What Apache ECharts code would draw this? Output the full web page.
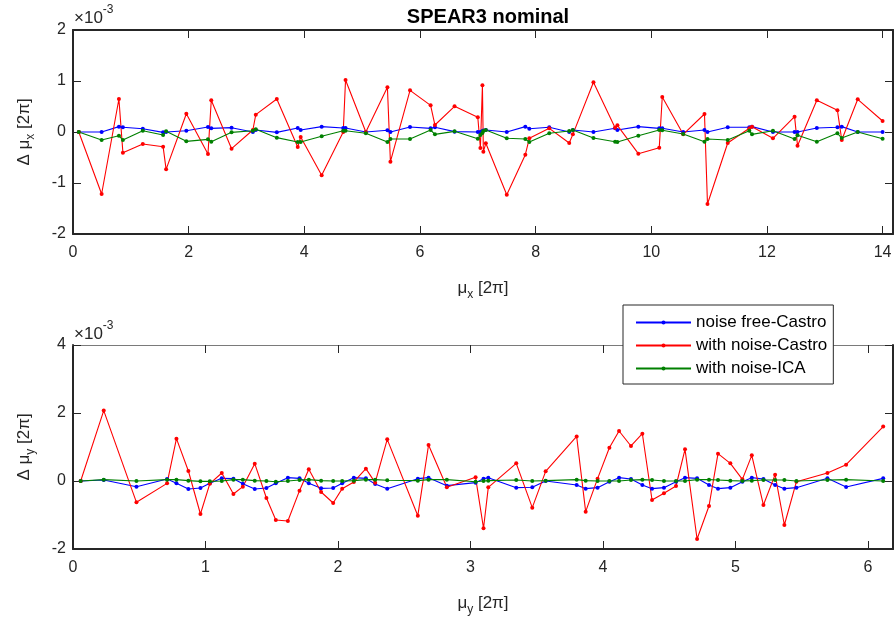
<!DOCTYPE html>
<html><head><meta charset="utf-8">
<script src="https://cdn.jsdelivr.net/npm/echarts@6/dist/echarts.min.js"></script>
<style>html,body{margin:0;padding:0;background:#fff}#c{width:896px;height:619px}</style>
</head><body><div id="c"></div>
<script>
// ---- data (values in units of 1e-3) ----
const seriesNames = ['noise free-Castro', 'with noise-Castro', 'with noise-ICA'];
const titleText = 'SPEAR3 nominal';

const topX = [0.10,0.495,0.794,0.863,1.207,1.558,1.610,1.960,2.334,2.391,2.742,3.110,3.161,3.524,3.886,3.937,4.300,4.673,4.713,5.064,5.437,5.489,5.828,6.184,6.259,6.598,7.000,7.045,7.080,7.096,7.139,7.501,7.822,7.891,8.236,8.581,8.644,9.000,9.374,9.414,9.776,10.138,10.190,10.552,10.920,10.972,11.322,11.696,11.742,12.104,12.478,12.529,12.863,13.219,13.294,13.570,14.000];
const topBlue = [0,0,0.105,0.092,0.065,-0.007,0,0.026,0.098,0.072,0.085,0,0.039,-0.007,0.078,0.039,0.105,0.078,0.078,0,0.033,0,0.098,0.072,0.092,0.007,0,0,0.02,0.03,0.039,0,0.105,0.065,0.092,0,0.039,0,0.072,0.039,0.105,0.072,0.072,0,0.039,0,0.092,0.092,0.105,0,0,0,0.078,0.092,0.105,0,0];
const topRed = [0,-1.216,0.647,-0.405,-0.235,-0.288,-0.732,0.359,-0.431,0.621,-0.327,0.039,0.34,0.647,-0.294,-0.098,-0.85,0,1.02,0,0.876,-0.582,0.817,0.523,0.137,0.503,0.29,-0.315,0.915,-0.386,-0.222,-1.229,-0.444,-0.124,0.072,-0.216,-0.046,0.974,0.085,0.131,-0.425,-0.307,0.686,-0.046,0.353,-1.412,-0.216,0.072,0.105,-0.124,0.301,-0.268,0.621,0.425,-0.157,0.641,0.216];
const topGreen = [0,-0.157,-0.072,-0.157,0.026,-0.059,0.013,-0.183,-0.144,-0.19,-0.007,0.026,0.052,-0.111,-0.196,-0.196,-0.085,0.026,0.026,-0.026,-0.196,-0.137,-0.137,0.039,-0.046,0.013,-0.131,-0.059,-0.02,0.02,0.039,-0.124,-0.137,-0.196,-0.026,0.02,0.039,-0.118,-0.19,-0.196,-0.072,0.039,0.033,-0.039,-0.19,-0.137,-0.157,0.026,-0.046,0.026,-0.137,-0.065,-0.19,-0.026,-0.118,0,-0.131];

const botX = [0.058,0.232,0.479,0.710,0.781,0.871,0.962,1.033,1.123,1.211,1.282,1.372,1.460,1.531,1.622,1.710,1.780,1.873,1.964,2.032,2.120,2.211,2.281,2.372,2.603,2.684,2.822,3.039,3.099,3.135,3.346,3.467,3.568,3.802,3.870,3.960,4.049,4.122,4.212,4.298,4.371,4.461,4.552,4.620,4.711,4.801,4.869,4.962,5.053,5.124,5.212,5.300,5.370,5.461,5.695,5.836,6.116];
const botBlue = [0,0.03,-0.167,0.059,-0.069,-0.235,-0.206,-0.069,0.078,0.069,-0.078,-0.235,-0.206,-0.069,0.098,0.078,-0.069,-0.216,-0.206,-0.069,0.098,0.078,-0.088,-0.225,0.069,0.098,-0.137,-0.049,0.069,0.098,-0.196,-0.186,0,-0.118,-0.225,-0.196,-0.02,0.098,0.059,-0.118,-0.225,-0.196,-0.02,0.098,0.078,-0.118,-0.225,-0.196,-0.02,0.098,0.059,-0.118,-0.225,-0.196,0.078,-0.176,0.078];
const botRed = [0,2.07,-0.627,-0.069,1.245,0.294,-0.97,-0.078,0.235,-0.382,-0.167,0.51,-0.5,-1.147,-1.176,-0.284,0.343,-0.324,-0.647,-0.225,-0.029,0.363,-0.049,1.225,-1.02,1.059,-0.186,0.108,-1.39,-0.186,0.52,-0.784,0.284,1.31,-0.902,0.069,0.98,1.47,1.03,1.39,-0.559,-0.363,-0.147,0.931,-1.706,-0.735,0.804,0.52,0.049,0.755,-0.706,0.186,-1.294,-0.02,0.235,0.48,1.6];
const botGreen = [0,0.04,0,0.04,0.04,0.01,-0.01,-0.01,0,0.04,0.04,0.01,0,-0.02,0,0.03,0.04,0.01,0,0,0.01,0.04,0.04,0.02,0.01,0.04,0.04,-0.02,0,0.01,0.03,0,0.01,0.04,0.01,0,0,0,0.03,0.04,0.03,0,0,0,0.04,0.04,0.03,0.01,0,0.01,0.03,0.03,0.03,0,0.03,0.04,0];

const topXTickStep = 2, topXMax = 14.18;
const botXTickStep = 1, botXMax = 6.19;
const topYMin = -2, topYMax = 2, topYStep = 1;
const botYMin = -2, botYMax = 4, botYStep = 2;

// ---- styling ----
const FONT = '"Liberation Sans", Arial, Helvetica, sans-serif';
const AX = '#262626';
const colors = ['#0000ff', '#ff0000', '#008000'];

function pairs(xs, ys) { return xs.map((x, i) => [x, ys[i]]); }
function fmt(step) {
  return v => (Math.abs(v / step - Math.round(v / step)) < 1e-6 ? String(Math.round(v / step) * step) : '');
}
function xAxes(grid, max, step, nameSub, topLineColor, topLineWidth) {
  return [
    { gridIndex: grid, type: 'value', position: 'bottom', min: 0, max: max, interval: step,
      axisLine: { show: true, onZero: false, lineStyle: { color: AX, width: 2 } },
      axisTick: { show: true, inside: true, length: 8, lineStyle: { color: AX, width: 1 } },
      axisLabel: { show: true, formatter: fmt(step), margin: 11, fontSize: 16, color: AX, fontFamily: FONT },
      splitLine: { show: false },
      name: '{a|μ}{s|' + nameSub + '}{a| [2π]}', nameLocation: 'middle', nameGap: 41,
      nameTextStyle: { color: AX, fontFamily: FONT, fontSize: 16,
        rich: { a: { fontSize: 17, lineHeight: 26, fontFamily: FONT, color: AX },
                s: { fontSize: 12, lineHeight: 12, verticalAlign: 'bottom', fontFamily: FONT, color: AX } } } },
    { gridIndex: grid, type: 'value', position: 'top', min: 0, max: max, interval: step,
      axisLine: { show: true, onZero: false, lineStyle: { color: topLineColor, width: topLineWidth } },
      axisTick: { show: true, inside: true, length: 8, lineStyle: { color: AX, width: 1 } },
      axisLabel: { show: false }, splitLine: { show: false } }
  ];
}
function yAxes(grid, min, max, step, nameSub) {
  return [
    { gridIndex: grid, type: 'value', position: 'left', min: min, max: max, interval: step,
      axisLine: { show: true, onZero: false, lineStyle: { color: AX, width: 2 } },
      axisTick: { show: true, inside: true, length: 8, lineStyle: { color: AX, width: 1 } },
      axisLabel: { show: true, margin: 7, fontSize: 16, color: AX, fontFamily: FONT },
      splitLine: { show: false },
      name: '{a|Δ μ}{s|' + nameSub + '}{a| [2π]}', nameLocation: 'middle', nameGap: 36, nameRotate: 90,
      nameTextStyle: { color: AX, fontFamily: FONT, fontSize: 16,
        rich: { a: { fontSize: 17, lineHeight: 26, fontFamily: FONT, color: AX },
                s: { fontSize: 12, lineHeight: 12, verticalAlign: 'bottom', fontFamily: FONT, color: AX } } } },
    { gridIndex: grid, type: 'value', position: 'right', min: min, max: max, interval: step,
      axisLine: { show: true, onZero: false, lineStyle: { color: AX, width: 2 } },
      axisTick: { show: true, inside: true, length: 8, lineStyle: { color: AX, width: 1 } },
      axisLabel: { show: false }, splitLine: { show: false } }
  ];
}
function mkSeries(name, color, data, xi, yi) {
  return { name: name, type: 'line', xAxisIndex: xi, yAxisIndex: yi, data: data,
    symbol: 'circle', symbolSize: 4, showSymbol: true,
    lineStyle: { color: color, width: 1.1 }, itemStyle: { color: color },
    emphasis: { disabled: true }, z: 3 };
}

const chart = echarts.init(document.getElementById('c'), null, { renderer: 'canvas' });
const supRich = { a: { fontSize: 17, lineHeight: 28, fontFamily: FONT, fill: AX },
                  s: { fontSize: 12, lineHeight: 12, verticalAlign: 'top', fontFamily: FONT, fill: AX } };
chart.setOption({
  animation: false,
  backgroundColor: '#ffffff',
  title: { text: titleText, left: 483, textAlign: 'center', top: 2,
    textStyle: { fontSize: 20, fontWeight: 'bold', color: '#000', fontFamily: FONT } },
  grid: [
    { left: 73, top: 30, width: 820, height: 204 },
    { left: 73, top: 345, width: 820, height: 204 }
  ],
  xAxis: [].concat(xAxes(0, topXMax, topXTickStep, 'x', AX, 2), xAxes(1, botXMax, botXTickStep, 'y', '#7a7a7a', 1)),
  yAxis: [].concat(yAxes(0, topYMin, topYMax, topYStep, 'x'), yAxes(1, botYMin, botYMax, botYStep, 'y')),
  legend: {
    data: seriesNames, orient: 'vertical', left: 623, top: 305,
    backgroundColor: '#ffffff', borderColor: AX, borderWidth: 1, borderRadius: 0,
    padding: [9, 6, 7, 12], itemWidth: 55, itemHeight: 5, itemGap: 6,
    textStyle: { fontSize: 17, color: '#000', fontFamily: FONT, lineHeight: 17 },
    selectedMode: false, z: 10
  },
  graphic: [
    { type: 'text', left: 74, top: 4, z: 10, style: { text: '{a|×10}{s|-3}', rich: supRich } },
    { type: 'text', left: 74, top: 320, z: 10, style: { text: '{a|×10}{s|-3}', rich: supRich } }
  ],
  series: [
    mkSeries(seriesNames[0], colors[0], pairs(topX, topBlue), 0, 0),
    mkSeries(seriesNames[1], colors[1], pairs(topX, topRed), 0, 0),
    mkSeries(seriesNames[2], colors[2], pairs(topX, topGreen), 0, 0),
    mkSeries(seriesNames[0], colors[0], pairs(botX, botBlue), 2, 2),
    mkSeries(seriesNames[1], colors[1], pairs(botX, botRed), 2, 2),
    mkSeries(seriesNames[2], colors[2], pairs(botX, botGreen), 2, 2)
  ]
});
</script></body></html>
